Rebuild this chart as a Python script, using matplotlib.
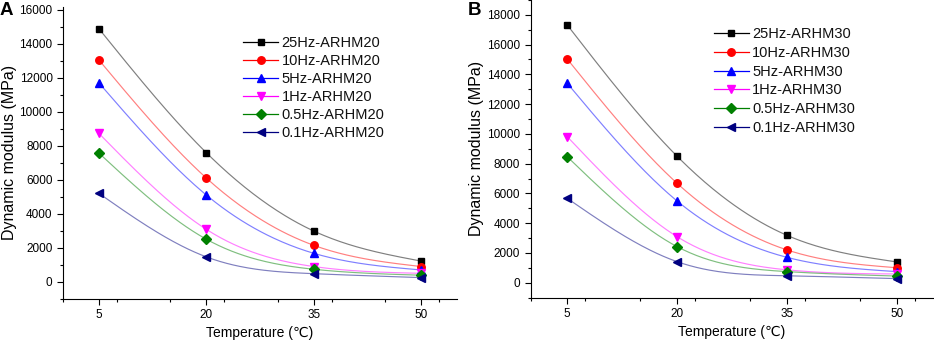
import numpy as np
import matplotlib
matplotlib.use("Agg")
import matplotlib.pyplot as plt
from matplotlib.ticker import MultipleLocator

plt.rcParams['font.family'] = ['Liberation Sans', 'DejaVu Sans']

temperature = [5, 20, 35, 50]
freq_labels = ["25Hz", "10Hz", "5Hz", "1Hz", "0.5Hz", "0.1Hz"]

arhm20 = [
    [14880, 7580, 2970, 1200],
    [13040, 6090, 2130, 880],
    [11690, 5090, 1660, 680],
    [8720, 3070, 880, 480],
    [7560, 2490, 720, 370],
    [5190, 1450, 460, 230],
]
arhm30 = [
    [17330, 8500, 3180, 1390],
    [15040, 6680, 2200, 1000],
    [13410, 5490, 1700, 740],
    [9820, 3090, 860, 580],
    [8470, 2420, 740, 440],
    [5670, 1410, 460, 270],
]

colors = ["#000000", "#ff0000", "#0000ff", "#ff00ff", "#008000", "#000080"]
markers = ["s", "o", "^", "v", "D", "<"]
msizes = [4.8, 5.4, 5.6, 5.6, 4.8, 5.6]


def natural_spline(x, y, xs):
    x = np.asarray(x, float); y = np.asarray(y, float)
    n = len(x)
    h = np.diff(x)
    A = np.zeros((n, n)); b = np.zeros(n)
    A[0, 0] = 1; A[-1, -1] = 1
    for i in range(1, n - 1):
        A[i, i - 1] = h[i - 1]
        A[i, i] = 2 * (h[i - 1] + h[i])
        A[i, i + 1] = h[i]
        b[i] = 6 * ((y[i + 1] - y[i]) / h[i] - (y[i] - y[i - 1]) / h[i - 1])
    M = np.linalg.solve(A, b)
    out = np.empty_like(xs)
    for k, xv in enumerate(xs):
        i = min(max(np.searchsorted(x, xv) - 1, 0), n - 2)
        t1 = x[i + 1] - xv; t0 = xv - x[i]
        out[k] = (M[i] * t1 ** 3 + M[i + 1] * t0 ** 3) / (6 * h[i]) \
            + (y[i] / h[i] - M[i] * h[i] / 6) * t1 \
            + (y[i + 1] / h[i] - M[i + 1] * h[i] / 6) * t0
    return out


fig = plt.figure(figsize=(9.34, 3.44), dpi=100)
axA = fig.add_axes([63 / 934, 1 - 298.5 / 344, (457 - 63) / 934, (298.5 - 7) / 344])
axB = fig.add_axes([530.5 / 934, 1 - 297.5 / 344, (933.5 - 530.5) / 934, 297.5 / 344])

xs = np.linspace(5, 50, 200)


def draw(ax, data, suffix, ylim, ymajor, leg_anchor, lspace):
    for lab, vals, c, m, ms in zip(freq_labels, data, colors, markers, msizes):
        ax.plot(xs, natural_spline(temperature, vals, xs), color=c, lw=0.85, alpha=0.5, zorder=2)
        ax.plot(temperature, vals, linestyle='none', marker=m, color=c, ms=ms, zorder=3)
        ax.plot([], [], color=c, lw=0.9, marker=m, ms=ms, label=f"{lab}-{suffix}")
    ax.set_xlim(0, 55)
    ax.set_xticks(temperature)
    ax.xaxis.set_minor_locator(MultipleLocator(7.5))
    ax.yaxis.set_minor_locator(MultipleLocator(ymajor / 2))
    ax.set_yticks(np.arange(0, ylim[1] + 1, ymajor))
    ax.set_ylim(*ylim)
    for s in ['top', 'right']:
        ax.spines[s].set_visible(False)
    ax.tick_params(axis='both', which='major', direction='out', length=4, width=0.8, labelsize=8.5)
    ax.tick_params(axis='both', which='minor', direction='out', length=2.5, width=0.8)
    ax.set_xlabel("Temperature (℃)", fontsize=10, labelpad=4)
    ax.set_ylabel("Dynamic modulus (MPa)", fontsize=11.5, labelpad=2)
    leg = ax.legend(loc='upper left', bbox_to_anchor=leg_anchor, bbox_transform=fig.transFigure,
                    frameon=False, fontsize=10.5, handlelength=2.4, handletextpad=0.25,
                    labelspacing=lspace, borderpad=0, borderaxespad=0)
    for t in leg.get_texts():
        t.set_color('#111111')


draw(axA, arhm20, "ARHM20", (-1000, 16150), 2000, (243 / 934, 1 - 36 / 344), 0.28)
draw(axB, arhm30, "ARHM30", (-1000, 19000), 2000, (713.5 / 934, 1 - 27 / 344), 0.33)

fig.text(0 / 934, 1 - 2 / 344, "A", fontsize=13.5, fontweight='bold', ha='left', va='top')
fig.text(468 / 934, 1 - 2 / 344, "B", fontsize=13.5, fontweight='bold', ha='left', va='top')

fig.savefig("out.png", dpi=100)
